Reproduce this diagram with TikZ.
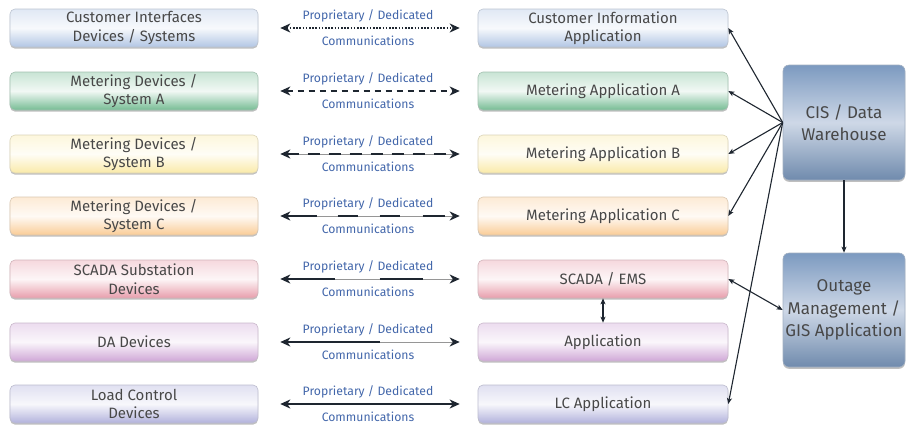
\documentclass[tikz,border=0pt]{standalone}
\usepackage{fontspec}
\setmainfont{Fira Sans}
\usetikzlibrary{arrows.meta,shadows}

% box colours (bottom tone of each glossy gradient)
\definecolor{cBlue}{RGB}{178,198,228}
\definecolor{cGreen}{RGB}{118,188,148}
\definecolor{cYellow}{RGB}{250,234,168}
\definecolor{cOrange}{RGB}{250,204,150}
\definecolor{cPink}{RGB}{232,158,172}
\definecolor{cPurple}{RGB}{208,168,215}
\definecolor{cLav}{RGB}{178,178,220}
\definecolor{cSteel}{RGB}{124,154,192}
\definecolor{cSteelLight}{RGB}{206,216,231}
\definecolor{txt}{RGB}{72,72,72}
\definecolor{commtxt}{RGB}{66,102,170}
\definecolor{wire}{RGB}{30,38,48}
\definecolor{thinwire}{RGB}{150,150,150}

\tikzset{
  glossbox/.style={rounded corners=5bp, draw=#1!75!black!55, line width=0.6bp,
    top color=#1!40!white, bottom color=#1, middle color=#1!10!white,
    minimum height=38bp, inner sep=0pt, align=center, text=txt,
    font=\fontsize{15bp}{18.5bp}\selectfont,
    drop shadow={shadow xshift=0bp, shadow yshift=-1.6bp, opacity=0.25, fill=black}},
  devbox/.style={glossbox=#1, minimum width=248bp},
  appbox/.style={glossbox=#1, minimum width=250bp},
  hubbox/.style={rounded corners=6bp, draw=cSteel!80!black!60, line width=0.6bp,
    top color=cSteel, bottom color=cSteel!90!black, middle color=cSteelLight,
    minimum width=122bp, inner sep=0pt, align=center, text=txt,
    font=\fontsize{17bp}{22.5bp}\selectfont,
    drop shadow={shadow xshift=0bp, shadow yshift=-1.8bp, opacity=0.25, fill=black}},
  commhead/.style={{Stealth[length=10bp,width=9bp,inset=3bp]}-{Stealth[length=10bp,width=9bp,inset=3bp]}},
  comm/.style={commhead, wire, line width=2bp, shorten <=22bp, shorten >=18bp},
  commbase/.style={thinwire, line width=0.6bp, shorten <=30bp, shorten >=26bp},
  commlabel/.style={text=commtxt, font=\fontsize{12.2bp}{14bp}\selectfont, inner sep=0pt},
  fan/.style={wire, line width=1.1bp, -{Stealth[length=6bp,width=5bp,inset=1.5bp]}},
  fan2/.style={wire, line width=1.1bp, {Stealth[length=6bp,width=5bp,inset=1.5bp]}-{Stealth[length=6bp,width=5bp,inset=1.5bp]}},
}

\begin{document}
\begin{tikzpicture}[x=1bp,y=-1bp]
\useasboundingbox (0,0) rectangle (906,426);

% device side
\node[devbox=cBlue]   (l1) at (134,28)  {Customer Interfaces\\Devices / Systems};
\node[devbox=cGreen]  (l2) at (134,91)  {Metering Devices /\\System A};
\node[devbox=cYellow] (l3) at (134,154) {Metering Devices /\\System B};
\node[devbox=cOrange] (l4) at (134,216) {Metering Devices /\\System C};
\node[devbox=cPink]   (l5) at (134,279) {SCADA Substation\\Devices};
\node[devbox=cPurple] (l6) at (134,342) {DA Devices};
\node[devbox=cLav]    (l7) at (134,404) {Load Control\\Devices};

% application side
\node[appbox=cBlue]   (r1) at (603,28)  {Customer Information\\Application};
\node[appbox=cGreen]  (r2) at (603,91)  {Metering Application A};
\node[appbox=cYellow] (r3) at (603,154) {Metering Application B};
\node[appbox=cOrange] (r4) at (603,216) {Metering Application C};
\node[appbox=cPink]   (r5) at (603,279) {SCADA / EMS};
\node[appbox=cPurple] (r6) at (603,342) {Application};
\node[appbox=cLav]    (r7) at (603,404) {LC Application};

% enterprise systems
\node[hubbox, minimum height=115bp] (cis) at (844,122.5) {CIS / Data\\Warehouse};
\node[hubbox, minimum height=114bp] (oms) at (844,310) {Outage\\Management /\\GIS Application};

% communication links, one style per row
\foreach \i in {3,4,5,6}
  \draw[commbase] (l\i) -- (r\i);
\draw[comm, dash pattern=on 1.6bp off 1.6bp] (l1) -- (r1);
\draw[comm, dash pattern=on 6.5bp off 4.5bp] (l2) -- (r2);
\draw[comm, dash pattern=on 12bp off 9bp] (l3) -- (r3);
\draw[comm, dash pattern=on 30bp off 21bp on 20bp off 22bp on 20bp off 23bp on 22bp off 60bp] (l4) -- (r4);
\draw[comm, dash pattern=on 48bp off 45bp on 43bp off 80bp] (l5) -- (r5);
\draw[comm, dash pattern=on 93bp off 120bp] (l6) -- (r6);
\draw[comm] (l7) -- (r7);

% link captions
\foreach \i in {1,...,7}
  \path (l\i.east) -- (r\i.west)
    node[commlabel, midway, yshift=12.5bp] {Proprietary / Dedicated}
    node[commlabel, midway, yshift=-13bp] {Communications};

% data warehouse fan-out
\foreach \i in {1,2,3,4,7}
  \draw[fan] (cis.west) -- (r\i.east);
\draw[fan] (cis.south) -- (oms.north);
\draw[fan2] (r5.east) -- (oms.west);
\draw[fan2] (r5.south) -- (r6.north);
\end{tikzpicture}
\end{document}
